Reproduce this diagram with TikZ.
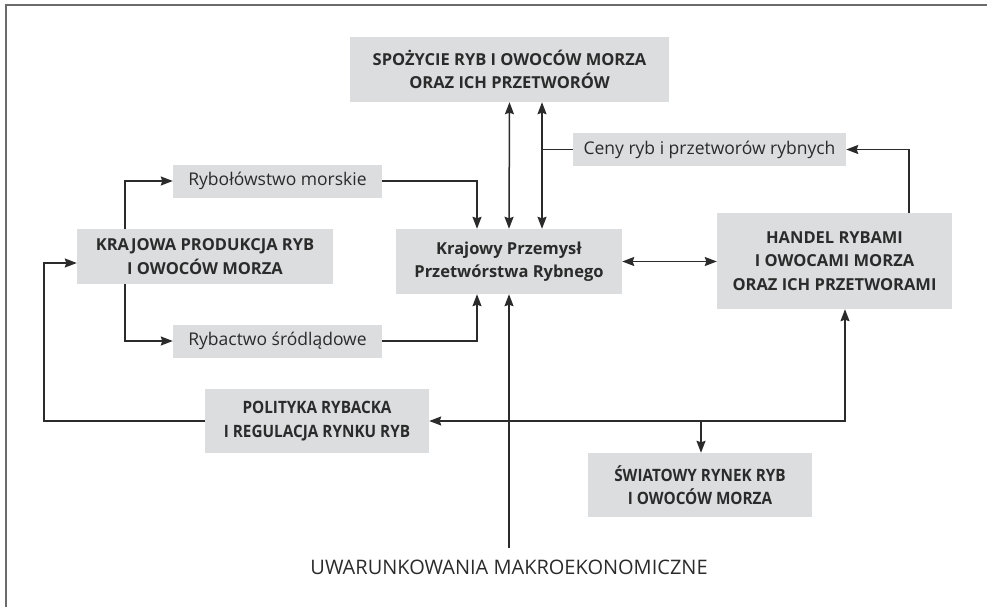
\documentclass[tikz,border=0pt]{standalone}
\usepackage{fontspec}
\setmainfont{Open Sans}
\newfontfamily\narrowfont[FakeStretch=0.9]{Open Sans}
\usetikzlibrary{arrows.meta}
\definecolor{boxgray}{HTML}{DCDDDE}
\definecolor{txtgray}{HTML}{2B2B2B}
\definecolor{framegray}{HTML}{6B6B6B}

\begin{document}
\begin{tikzpicture}[x=1pt, y=-1pt, >={Stealth[length=12pt, width=9pt, inset=1.5pt]},
    box/.style={fill=boxgray, text=txtgray, align=center, inner sep=0pt, font=\bfseries\fontsize{16.5}{23.5}\selectfont},
    narrowbox/.style={box, font=\narrowfont\bfseries\fontsize{17}{23.5}\selectfont},
    lbl/.style={fill=boxgray, text=txtgray, inner sep=0pt, minimum height=33pt, font=\fontsize{17.5}{20}\selectfont},
    link/.style={line width=1.5pt, draw=txtgray}]
    \useasboundingbox (0,0) rectangle (987,607);

    % Frame
    \draw[framegray, line width=1.8pt] (987,5) -| (6,607);

    % Draw boxes
    \node[box, minimum width=319pt, minimum height=65pt] (spozycie) at (509.5,69.5) {SPOŻYCIE RYB I OWOCÓW MORZA\\ORAZ ICH PRZETWORÓW};
    \node[lbl, minimum width=273pt] (ceny) at (709.5,149.5) {Ceny ryb i przetworów rybnych};
    \node[lbl, minimum width=209pt] (morskie) at (277.5,181) {Rybołówstwo morskie};
    \node[lbl, minimum width=209pt] (srodladowe) at (277.5,341) {Rybactwo śródlądowe};
    \node[box, minimum width=256pt, minimum height=55pt] (produkcja) at (205,256.5) {KRAJOWA PRODUKCJA RYB\\I OWOCÓW MORZA};
    \node[box, minimum width=226pt, minimum height=65pt] (przemysl) at (509,261.5) {Krajowy Przemysł\\Przetwórstwa Rybnego};
    \node[box, minimum width=235pt, minimum height=96pt] (handel) at (834.5,261) {HANDEL RYBAMI\\I OWOCAMI MORZA\\ORAZ ICH PRZETWORAMI};
    \node[narrowbox, minimum width=224pt, minimum height=64pt] (polityka) at (317,421) {POLITYKA RYBACKA\\I REGULACJA RYNKU RYB};
    \node[narrowbox, minimum width=224pt, minimum height=64pt] (swiatowy) at (700,485) {ŚWIATOWY RYNEK RYB\\I OWOCÓW MORZA};
    \node[text=txtgray, font=\fontsize{20}{22}\selectfont] (makro) at (509,567) {UWARUNKOWANIA MAKROEKONOMICZNE};

    % Junction points
    \coordinate (cj) at (542,149.5);
    \coordinate (hj) at (845,421);
    \coordinate (sj) at (701,421);
    \coordinate (lp) at (44,263);
    \coordinate (mtop) at (509,548);

    % Draw connectors
    \draw[link, <->] (spozycie.south) -- (przemysl.north);
    \draw[link, <->] (spozycie.south -| cj) -- (przemysl.north -| cj);
    \draw[link] (ceny.west) -- (cj);
    \draw[link, ->] (handel.north -| 909,0) |- (ceny.east);
    \draw[link, <->] (przemysl.east) -- (przemysl.east -| handel.west);
    \draw[link, ->] (produkcja.north -| 125,0) |- (morskie.west);
    \draw[link, ->] (produkcja.south -| 125,0) |- (srodladowe.west);
    \draw[link, ->] (morskie.east) -| (przemysl.north -| 477,0);
    \draw[link, ->] (srodladowe.east) -| (przemysl.south -| 477,0);
    \draw[link, ->] (mtop) -- (przemysl.south);
    \draw[link, <->] (handel.south -| hj) |- (polityka.east);
    \draw[link, ->] (sj) -- (swiatowy.north -| sj);
    \draw[link, ->] (polityka.west) -| (lp) -- (lp -| produkcja.west);
\end{tikzpicture}
\end{document}
